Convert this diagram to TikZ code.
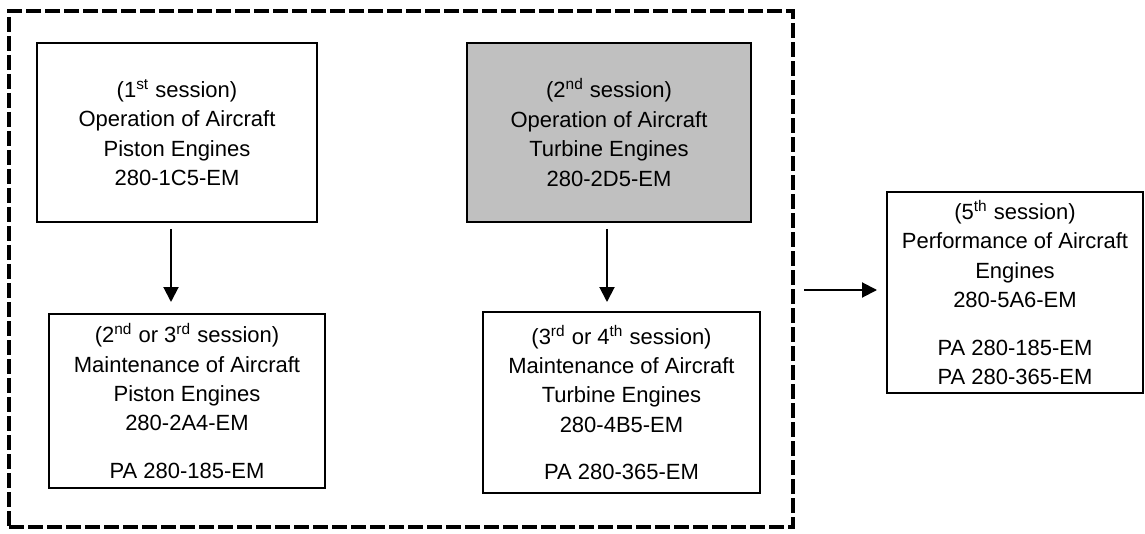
\documentclass[tikz,border=0pt]{standalone}
\usepackage{fontspec}
\setmainfont{Liberation Sans}
\usetikzlibrary{arrows.meta}
\tikzset{
  course/.style={draw, line width=1pt, align=center, inner sep=0pt,
    font=\fontsize{11}{14.7}\selectfont},
  link/.style={line width=1pt, -{Triangle[length=7.5pt,width=7.5pt]}},
  frame/.style={draw, line width=2pt, dash pattern=on 7.5pt off 2pt},
}
\begin{document}
\begin{tikzpicture}[x=0.5pt,y=-0.5pt]
  \useasboundingbox (0,0) rectangle (1145,534);
  \node[frame, minimum width=392pt, minimum height=258pt] (frame) at (401,269) {};
  \node[course, minimum width=140pt, minimum height=89.5pt] (op1) at (177,132.5)
    {(1\textsuperscript{st} session)\\Operation of Aircraft\\Piston Engines\\280-1C5-EM};
  \node[course, fill={rgb,255:red,192;green,192;blue,192}, minimum width=142pt, minimum height=89.5pt] (op2) at (609,132.5)
    {(2\textsuperscript{nd} session)\\Operation of Aircraft\\Turbine Engines\\280-2D5-EM};
  \node[course, minimum width=138pt, minimum height=87pt] (mt1) at (187,401)
    {(2\textsuperscript{nd} or 3\textsuperscript{rd} session)\\Maintenance of Aircraft\\Piston Engines\\280-2A4-EM\\[9pt]PA 280-185-EM};
  \node[course, minimum width=138.5pt, minimum height=90.5pt] (mt2) at (621.5,402.5)
    {(3\textsuperscript{rd} or 4\textsuperscript{th} session)\\Maintenance of Aircraft\\Turbine Engines\\280-4B5-EM\\[9pt]PA 280-365-EM};
  \node[course, minimum width=128pt, minimum height=100.5pt] (pf) at (1015,292.5)
    {(5\textsuperscript{th} session)\\Performance of Aircraft\\Engines\\280-5A6-EM\\[9pt]PA 280-185-EM\\PA 280-365-EM};
  % arrows
  \draw[link, shorten <=3pt, shorten >=5.5pt] ([xshift=-3pt]op1.south) -- ([xshift=-3pt]op1.south |- mt1.north);
  \draw[link, shorten <=3pt, shorten >=4.5pt] ([xshift=-1pt]op2.south) -- ([xshift=-1pt]op2.south |- mt2.north);
  \draw[link, shorten <=4.5pt, shorten >=4.5pt] ([yshift=1.25pt]frame.east |- pf.west) -- ([yshift=1.25pt]pf.west);
\end{tikzpicture}
\end{document}
